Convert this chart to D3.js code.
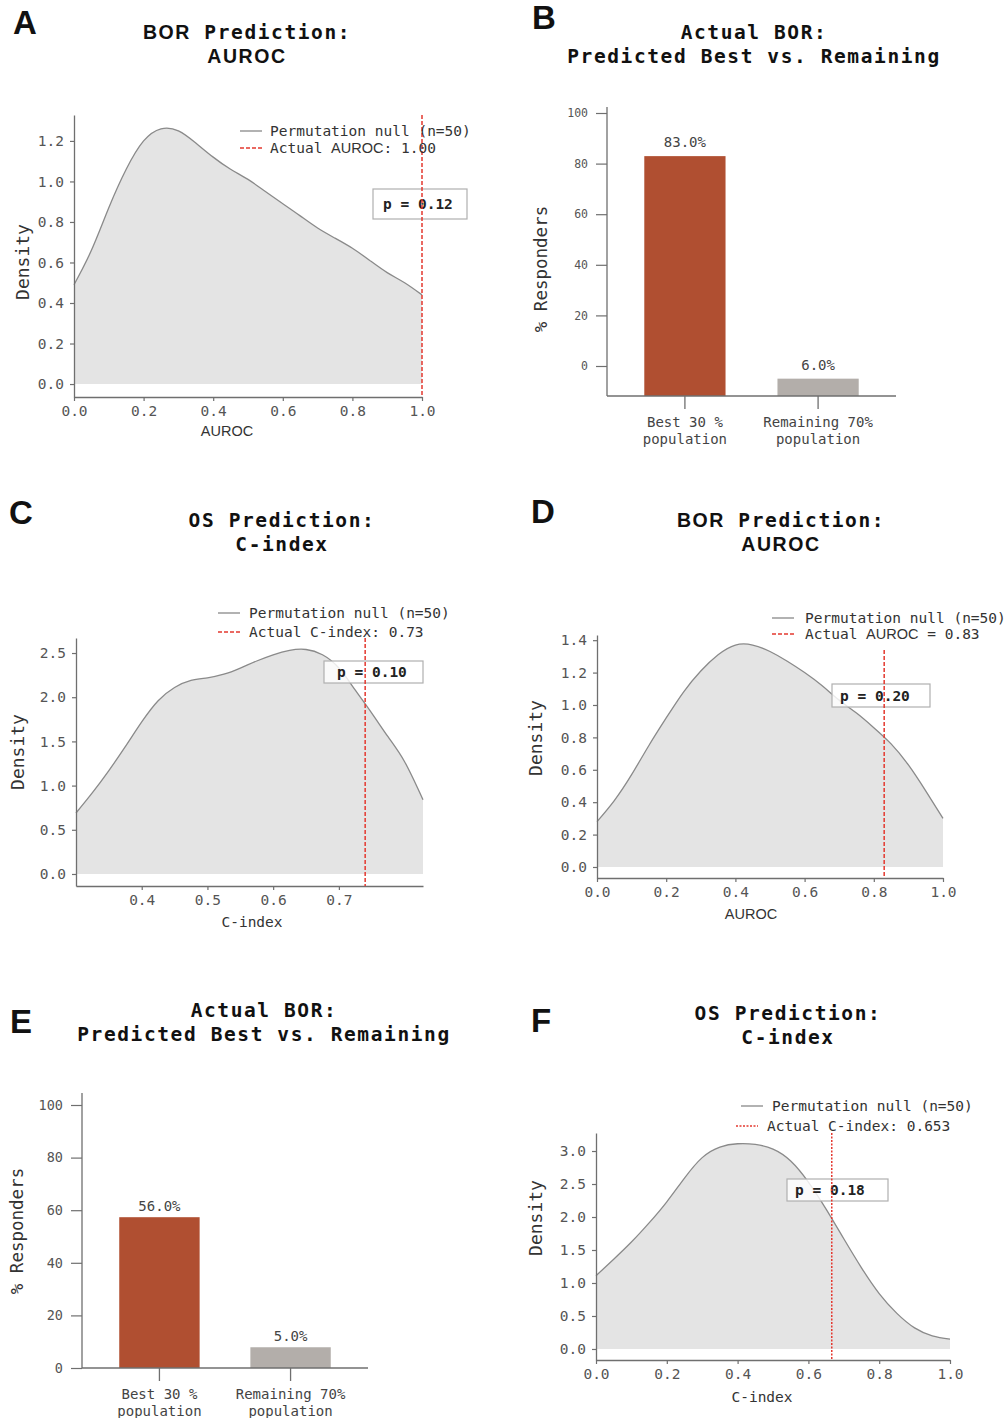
<!DOCTYPE html>
<html><head><meta charset="utf-8">
<script src="https://cdn.jsdelivr.net/npm/d3@7"></script>
<style>
body{margin:0;background:#fff}
svg{display:block}
</style>
</head><body>
<svg id="c" width="1008" height="1418"></svg>
<script>
// ---------- DATA ----------
// Panel A: BOR Prediction AUROC null density
const densA_x = [0,0.05,0.1,0.15,0.2,0.25,0.3,0.35,0.4,0.45,0.5,0.55,0.6,0.65,0.7,0.75,0.8,0.85,0.9,0.95,1.0];
const densA_y = [0.49,0.66,0.87,1.06,1.20,1.26,1.25,1.19,1.12,1.06,1.01,0.95,0.89,0.83,0.77,0.72,0.67,0.61,0.55,0.50,0.44];
const actualA = 1.00;
const pA = "p = 0.12";
const legendA = "Actual AUROC: 1.00";
const xTicksA = [0,0.2,0.4,0.6,0.8,1.0];
const yTicksA = [0,0.2,0.4,0.6,0.8,1.0,1.2];

// Panel C: OS Prediction C-index null density
const densC_x = [0.30,0.325,0.35,0.375,0.40,0.425,0.45,0.475,0.50,0.525,0.55,0.575,0.60,0.625,0.65,0.675,0.70,0.725,0.75,0.775,0.80,0.828];
const densC_y = [0.69,0.92,1.17,1.44,1.72,1.96,2.11,2.19,2.22,2.26,2.33,2.41,2.48,2.53,2.54,2.48,2.33,2.08,1.82,1.55,1.27,0.84];
const actualC = 0.74;
const pC = "p = 0.10";
const legendC = "Actual C-index: 0.73";
const xTicksC = [0.4,0.5,0.6,0.7];
const yTicksC = [0,0.5,1.0,1.5,2.0,2.5];

// Panel D: BOR Prediction AUROC null density
const densD_x = [0,0.05,0.1,0.15,0.2,0.25,0.3,0.35,0.4,0.45,0.5,0.55,0.6,0.65,0.7,0.75,0.8,0.85,0.9,0.95,1.0];
const densD_y = [0.28,0.41,0.57,0.75,0.92,1.08,1.21,1.31,1.37,1.37,1.33,1.27,1.20,1.12,1.03,0.95,0.86,0.76,0.63,0.47,0.30];
const actualD = 0.83;
const pD = "p = 0.20";
const legendD = "Actual AUROC = 0.83";
const xTicksD = [0,0.2,0.4,0.6,0.8,1.0];
const yTicksD = [0,0.2,0.4,0.6,0.8,1.0,1.2,1.4];

// Panel F: OS Prediction C-index null density
const densF_x = [0,0.05,0.1,0.15,0.2,0.25,0.3,0.35,0.4,0.45,0.5,0.55,0.6,0.65,0.7,0.75,0.8,0.85,0.9,0.95,1.0];
const densF_y = [1.11,1.36,1.62,1.91,2.23,2.59,2.90,3.06,3.11,3.10,3.03,2.85,2.53,2.12,1.67,1.23,0.84,0.54,0.32,0.20,0.15];
const actualF = 0.666;
const pF = "p = 0.18";
const legendF = "Actual C-index: 0.653";
const xTicksF = [0,0.2,0.4,0.6,0.8,1.0];
const yTicksF = [0,0.5,1.0,1.5,2.0,2.5,3.0];

const legendNull = "Permutation null (n=50)";

// Bar panels
const barCats = ["Best 30 %|population", "Remaining 70%|population"];
const barB = [83.0, 6.0];
const barLabelsB = ["83.0%", "6.0%"];
const barE = [56.0, 5.0];
const barLabelsE = ["56.0%", "5.0%"];
const barTicks = [0,20,40,60,80,100];

// ---------- STYLE ----------
const MONO = "'DejaVu Sans Mono', 'Liberation Mono', monospace";
const SANS = "'Liberation Sans', Arial, sans-serif";
const RED = "#e4382f";
const BAR1 = "#b04f31";
const BAR2 = "#b3aeaa";
const AXIS = "#6f6f6f";
const TICKTXT = "#555";

const svg = d3.select("#c");

function panelLetter(t, x, y){
  svg.append("text").attr("x",x).attr("y",y).text(t)
    .attr("font-family",SANS).attr("font-weight","bold").attr("font-size",33).attr("fill","#111");
}
function title(lines, cx, ys){
  lines.forEach((ln,i)=>{
    const t = svg.append("text").attr("x",cx).attr("y",ys[i]).attr("text-anchor","middle")
      .attr("font-family",MONO).attr("font-weight","bold").attr("font-size",19.5)
      .attr("letter-spacing",1.6).attr("fill","#111");
    ln.forEach(seg=>{
      t.append("tspan").text(seg.t).attr("font-family", seg.sans ? SANS : MONO);
    });
  });
}
function styleAxis(g, fs){
  g.select(".domain").attr("stroke",AXIS).attr("stroke-width",1.3);
  g.selectAll(".tick line").attr("stroke",AXIS).attr("stroke-width",1.2);
  g.selectAll(".tick text").attr("font-family",MONO).attr("font-size",fs).attr("fill",TICKTXT);
}

function densityPanel(o){
  const x = d3.scaleLinear().domain(o.xDom).range(o.xRange);
  const y = d3.scaleLinear().domain(o.yDom).range(o.yRange);
  const data = o.xs.map((v,i)=>[v,o.ys[i]]);
  const g = svg.append("g");
  g.append("path").datum(data)
    .attr("d", d3.area().x(d=>x(d[0])).y0(y(0)).y1(d=>y(d[1])).curve(d3.curveNatural))
    .attr("fill","#e4e4e4");
  g.append("path").datum(data)
    .attr("d", d3.line().x(d=>x(d[0])).y(d=>y(d[1])).curve(d3.curveNatural))
    .attr("fill","none").attr("stroke","#8a8a8a").attr("stroke-width",1.3);
  // axes
  const ax = g.append("g").attr("transform",`translate(0,${o.yRange[0]})`)
    .call(d3.axisBottom(x).tickValues(o.xTicks).tickFormat(d3.format(".1f")).tickSize(4).tickSizeOuter(0).tickPadding(5));
  styleAxis(ax, 14.5);
  const ay = g.append("g").attr("transform",`translate(${o.xRange[0]},0)`)
    .call(d3.axisLeft(y).tickValues(o.yTicks).tickFormat(d3.format(".1f")).tickSize(4).tickSizeOuter(0).tickPadding(6));
  styleAxis(ay, 14.5);
  // p box
  g.append("rect").attr("x",o.box[0]).attr("y",o.box[1]).attr("width",o.box[2]).attr("height",o.box[3])
    .attr("fill","#fff").attr("fill-opacity",0.82).attr("stroke","#b0b0b0").attr("stroke-width",1.2);
  g.append("text").attr("x",o.box[0]+o.boxTx).attr("y",o.box[1]+o.box[3]/2).attr("dy","0.35em")
    .text(o.p).attr("font-family",MONO).attr("font-weight","bold").attr("font-size",14.5).attr("fill","#222");
  // actual line
  g.append("line").attr("x1",x(o.actual)).attr("x2",x(o.actual)).attr("y1",o.vTop).attr("y2",o.yRange[0])
    .attr("stroke",RED).attr("stroke-width",1.5).attr("stroke-dasharray",o.dash);
  // legend
  const L = o.legend;
  g.append("line").attr("x1",L.gx).attr("x2",L.gx+22).attr("y1",L.y1).attr("y2",L.y1)
    .attr("stroke","#999").attr("stroke-width",1.5);
  g.append("text").attr("x",L.gtx).attr("y",L.y1).attr("dy","0.35em").text(legendNull)
    .attr("font-family",MONO).attr("font-size",14.5).attr("fill","#333");
  g.append("line").attr("x1",L.rx).attr("x2",L.rx+22).attr("y1",L.y2).attr("y2",L.y2)
    .attr("stroke",RED).attr("stroke-width",1.6).attr("stroke-dasharray",o.dash);
  const lt = g.append("text").attr("x",L.rtx).attr("y",L.y2).attr("dy","0.35em")
    .attr("font-family",MONO).attr("font-size",14.5).attr("fill","#333");
  o.legendText.split(/(AUROC)/).forEach(s=>{
    if(!s) return;
    lt.append("tspan").text(s).attr("font-family", s==="AUROC" ? SANS : MONO);
  });
  // y label
  g.append("text").attr("transform",`translate(${o.ylab[0]},${o.ylab[1]}) rotate(-90)`)
    .attr("text-anchor","middle").attr("dy","0.35em").text("Density")
    .attr("font-family",MONO).attr("font-size",18).attr("fill","#333");
  // x label
  g.append("text").attr("x",o.xlab[0]).attr("y",o.xlab[1]).attr("dy","0.35em").attr("text-anchor","middle")
    .text(o.xlabText).attr("font-family",o.xlabText==="AUROC"?SANS:MONO).attr("font-size",14.5).attr("fill","#333");
}

function barPanel(o){
  const x = d3.scaleBand().domain(barCats).range(o.xRange).paddingInner(o.pi).paddingOuter(o.po);
  const yAxisS = d3.scaleLinear().domain([0,100]).range(o.tickRange);
  const yBar = d3.scaleLinear().domain([0,100]).range(o.barRange);
  const g = svg.append("g");
  g.selectAll("rect.bar").data(o.vals).enter().append("rect")
    .attr("x",(d,i)=>x(barCats[i])).attr("width",x.bandwidth())
    .attr("y",d=>yBar(d)).attr("height",d=>o.base-yBar(d))
    .attr("fill",(d,i)=>i===0?BAR1:BAR2);
  g.selectAll("text.bl").data(o.vals).enter().append("text")
    .attr("x",(d,i)=>x(barCats[i])+x.bandwidth()/2).attr("y",d=>yBar(d)-o.lblOff)
    .attr("text-anchor","middle").text((d,i)=>o.labels[i])
    .attr("font-family",MONO).attr("font-size",14).attr("fill","#444");
  // y axis with ticks
  const ay = g.append("g").attr("transform",`translate(${o.xRange[0]},0)`)
    .call(d3.axisLeft(yAxisS).tickValues(barTicks).tickFormat(d3.format("d")).tickSize(11).tickSizeOuter(0).tickPadding(8));
  ay.select(".domain").remove();
  styleAxis(ay, o.tickFs);
  g.append("line").attr("x1",o.xRange[0]).attr("x2",o.xRange[0]).attr("y1",o.axisTop).attr("y2",o.base)
    .attr("stroke",AXIS).attr("stroke-width",1.3);
  g.append("line").attr("x1",o.xRange[0]).attr("x2",o.xRange[1]).attr("y1",o.base).attr("y2",o.base)
    .attr("stroke",AXIS).attr("stroke-width",1.3);
  // x ticks + labels
  barCats.forEach((c,i)=>{
    const cx = x(c)+x.bandwidth()/2;
    g.append("line").attr("x1",cx).attr("x2",cx).attr("y1",o.base).attr("y2",o.base+13)
      .attr("stroke",AXIS).attr("stroke-width",1.3);
    c.split("|").forEach((ln,j)=>{
      g.append("text").attr("x",cx).attr("y",o.base+26+j*17).attr("dy","0.35em").attr("text-anchor","middle")
        .text(ln).attr("font-family",MONO).attr("font-size",14).attr("fill","#444");
    });
  });
  g.append("text").attr("transform",`translate(${o.ylab[0]},${o.ylab[1]}) rotate(-90)`)
    .attr("text-anchor","middle").attr("dy","0.35em").text("% Responders")
    .attr("font-family",MONO).attr("font-size",17.5).attr("fill","#333");
}

// ---------- PANELS ----------
panelLetter("A",13,34);
title([[{t:"BOR",sans:true},{t:" Prediction:"}],[{t:"AUROC",sans:true}]],247,[39,63]);
densityPanel({xs:densA_x, ys:densA_y, xDom:[0,1], xRange:[74,422], yDom:[-0.064,1.328], yRange:[397,115],
  xTicks:xTicksA, yTicks:yTicksA, actual:actualA, vTop:115, dash:"4,2", p:pA, box:[373,189,94,30], boxTx:10,
  legend:{gx:240,gtx:270,y1:131,rx:240,rtx:270,y2:148}, legendText:legendA,
  ylab:[23,262], xlab:[227,431], xlabText:"AUROC"});

panelLetter("B",532,29);
title([[{t:"Actual BOR:"}],[{t:"Predicted Best vs. Remaining"}]],754,[39,63]);
barPanel({vals:barB, labels:barLabelsB, xRange:[607,896], pi:0.39, po:0.28,
  tickRange:[366,113], barRange:[396,107], base:396, axisTop:107, lblOff:9, tickFs:11.5, ylab:[541,269]});

panelLetter("C",9,524);
title([[{t:"OS Prediction:"}],[{t:"C-index"}]],282,[527,551]);
densityPanel({xs:densC_x, ys:densC_y, xDom:[0.3,0.828], xRange:[76,423], yDom:[-0.136,2.670], yRange:[886,638],
  xTicks:xTicksC, yTicks:yTicksC, actual:actualC, vTop:638, dash:"4,2", p:pC, box:[324,661,99,22], boxTx:13,
  legend:{gx:218,gtx:249,y1:613,rx:218,rtx:249,y2:632}, legendText:legendC,
  ylab:[18,752], xlab:[252,922], xlabText:"C-index"});

panelLetter("D",531,523);
title([[{t:"BOR",sans:true},{t:" Prediction:"}],[{t:"AUROC",sans:true}]],781,[527,551]);
densityPanel({xs:densD_x, ys:densD_y, xDom:[0,1], xRange:[597,943], yDom:[-0.068,1.432], yRange:[878,635],
  xTicks:xTicksD, yTicks:yTicksD, actual:actualD, vTop:650, dash:"4,2", p:pD, box:[832,684,98,23], boxTx:8,
  legend:{gx:772,gtx:805,y1:618,rx:772,rtx:805,y2:634}, legendText:legendD,
  ylab:[536,738], xlab:[751,914], xlabText:"AUROC"});

panelLetter("E",10,1033);
title([[{t:"Actual BOR:"}],[{t:"Predicted Best vs. Remaining"}]],264,[1017,1041]);
barPanel({vals:barE, labels:barLabelsE, xRange:[82,368], pi:0.387, po:0.284,
  tickRange:[1368,1105], barRange:[1360,1105], base:1368, axisTop:1093, lblOff:6, tickFs:13.5, ylab:[17,1231]});

panelLetter("F",531,1032);
title([[{t:"OS Prediction:"}],[{t:"C-index"}]],788,[1020,1044]);
densityPanel({xs:densF_x, ys:densF_y, xDom:[0,1], xRange:[596,950], yDom:[-0.167,3.273], yRange:[1360,1133],
  xTicks:xTicksF, yTicks:yTicksF, actual:actualF, vTop:1133, dash:"2,1.5", p:pF, box:[787,1179,101,22], boxTx:8,
  legend:{gx:741,gtx:772,y1:1106,rx:736,rtx:767,y2:1126}, legendText:legendF,
  ylab:[536,1218], xlab:[762,1397], xlabText:"C-index"});
</script>
</body></html>
